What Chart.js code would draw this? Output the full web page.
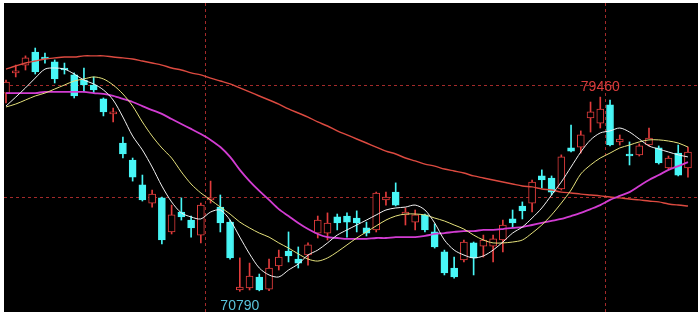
<!DOCTYPE html>
<html>
<head>
<meta charset="utf-8">
<script src="https://cdn.jsdelivr.net/npm/chart.js@4.4.1/dist/chart.umd.min.js"></script>
<style>
  html, body { margin: 0; padding: 0; background: #fff; }
  #box { position: absolute; left: 4px; top: 3px; width: 694px; height: 309px; background: #000; }
</style>
</head>
<body>
<div id="box"><canvas id="kline" width="694" height="309"></canvas></div>
<script>
// daily candles
const open  = [79640,80540,80890,81470,81250,81030,80760,80450,80220,80000,
               79380,78710,77410,76650,75540,74730,74960,73440,74330,73970,
               73300,74870,74550,73880,70850,70940,71430,70880,71920,72590,
               72230,72410,73390,73390,74110,74150,74060,73620,73530,74870,
               75220,74200,73880,74200,73440,72550,71830,72190,72950,72810,
               72810,73080,74020,74600,74730,75940,75850,75360,77190,77230,
               78530,78300,79110,77460,76920,76880,77320,77190,76300,76960,76300];
const high  = [80220,80890,81300,81650,81430,81120,80980,80540,80760,80360,
               79420,78970,77680,76740,75980,75310,75000,74640,74960,74150,
               74730,75710,75090,73970,72280,72050,71560,72230,72630,73440,
               72770,72950,74150,74290,74240,74290,74380,73880,75220,75220,
               75630,74510,74420,74240,73800,72630,72320,73080,72990,73300,
               73300,73970,74420,74780,75760,76210,75940,76880,78210,77950,
               79240,79460,79330,77770,77460,77370,78080,77280,76830,77320,77230];
const low   = [79200,80360,80670,80490,80980,80090,80490,79420,79690,79640,
               78620,78350,76740,75710,74820,74550,72900,73350,73970,73210,
               72950,74730,73440,72230,70790,70850,70810,70820,71740,72100,
               71830,71960,73170,73080,73530,73210,73440,73260,73440,74640,
               74600,73750,73530,73440,72720,71520,71380,72100,71520,72320,
               72100,72550,73620,74020,74330,75400,75090,75310,77010,76960,
               77900,78080,77280,77320,76430,76830,77280,76470,76250,75940,75890];
const close = [80130,80630,81210,80580,81160,80270,80670,79510,80000,79780,
               78800,78800,76920,75890,74870,75130,73080,74200,74110,73620,
               74640,74960,73840,72280,70980,71470,70850,71830,72320,72370,
               72050,72860,73970,73840,73840,73880,73840,73390,75180,75000,
               74640,74330,74200,73530,72770,71610,71430,72990,72280,73080,
               73130,73750,73840,74380,75670,75760,75220,76790,77050,77770,
               78800,78930,77320,77590,76830,77280,77630,76520,76740,75980,77010];

// moving average lines as shown on the chart
const ma5  = [79060,79460,79870,80310,80710,80760,80710,80490,80220,80050,
              79780,79330,78570,77720,77100,76340,75490,74780,74290,74110,
              74020,74330,74420,73970,73210,72460,71830,71520,71430,71740,
              72010,72410,72630,72950,73300,73530,73750,73970,74200,74420,
              74510,74550,74640,74420,73840,73080,72630,72410,72280,72370,
              72630,72990,73390,73660,74060,74510,75090,75670,76340,77010,
              77550,77860,77950,78080,77900,77590,77280,77140,77010,76880,76790];
const ma10 = [79020,79150,79330,79510,79640,79820,80000,80180,80270,80360,
              80270,80000,79600,79060,78350,77720,77190,76740,76120,75580,
              75180,74870,74550,74240,73880,73620,73390,73210,72950,72720,
              72460,72230,72140,72280,72550,72860,73170,73440,73710,73970,
              74150,74240,74240,74200,74060,73930,73750,73570,73300,73080,
              72950,72950,72990,73080,73390,73750,74200,74730,75310,76030,
              76430,76740,76960,77190,77320,77460,77550,77550,77500,77410,77230];
const ma20 = [79640,79640,79640,79640,79690,79690,79690,79690,79690,79640,
              79600,79510,79380,79240,79060,78880,78710,78480,78260,78040,
              77810,77550,77230,76790,76210,75710,75270,74870,74460,74150,
              73840,73570,73350,73210,73170,73130,73130,73130,73170,73170,
              73210,73210,73210,73260,73350,73390,73440,73480,73480,73530,
              73530,73570,73620,73660,73750,73840,73930,74020,74150,74290,
              74460,74640,74870,75050,75220,75490,75760,75980,76210,76380,76560];
const ma60 = [80710,80850,80980,81070,81160,81210,81250,81250,81300,81300,
              81300,81250,81210,81160,81070,80980,80890,80760,80670,80540,
              80450,80310,80180,80050,79870,79690,79510,79330,79150,78930,
              78750,78570,78350,78170,77950,77770,77590,77410,77230,77050,
              76920,76740,76610,76470,76380,76250,76160,76070,75940,75850,
              75760,75670,75580,75490,75450,75360,75310,75220,75180,75130,
              75090,75050,75000,74960,74910,74870,74820,74780,74690,74640,74600];

const gridPrices = [75000, 80000];
const monthBreaks = [20.5, 61.5];
// candles carrying the high / low price tags
const markHighAt = 61;
const markLowAt = 24;

const upColor = '#e23c3c';
const downColor = '#48f6f6';

const isUp = open.map((o, i) => close[i] >= o);
const wicks = open.map((o, i) => ({ x: i, y: [low[i], high[i]] }));
const bodies = open.map((o, i) => ({ x: i, y: [Math.min(o, close[i]), Math.max(o, close[i])] }));
const line = arr => arr.map((v, i) => ({ x: i, y: v }));

const extremeLabels = {
  id: 'extremeLabels',
  afterDatasetsDraw(chart) {
    const { ctx, scales: { x, y } } = chart;
    const hi = high[markHighAt];
    const lo = low[markLowAt];
    ctx.save();
    ctx.font = '14px Arial';
    ctx.textAlign = 'center';
    ctx.textBaseline = 'alphabetic';
    ctx.fillStyle = '#d83c3c';
    ctx.fillText(String(hi), x.getPixelForValue(markHighAt), y.getPixelForValue(hi) - 6);
    ctx.fillStyle = '#5ac4dc';
    ctx.fillText(String(lo), x.getPixelForValue(markLowAt), y.getPixelForValue(lo) + 19);
    ctx.restore();
  }
};

const gridOpts = { color: '#a32a2a', lineWidth: 1, drawTicks: false, offset: false };
const borderOpts = { display: false, dash: [3, 3] };

new Chart(document.getElementById('kline'), {
  type: 'bar',
  data: {
    datasets: [
      { type: 'line', data: line(ma5),  borderColor: '#f2f2f2', borderWidth: 1,   pointRadius: 0, tension: 0.3, order: 0 },
      { type: 'line', data: line(ma10), borderColor: '#e6e27c', borderWidth: 1,   pointRadius: 0, tension: 0.3, order: 0 },
      { type: 'line', data: line(ma20), borderColor: '#d23cd2', borderWidth: 1.8, pointRadius: 0, tension: 0.3, order: 0 },
      { type: 'line', data: line(ma60), borderColor: '#dc4a40', borderWidth: 1.4, pointRadius: 0, tension: 0.3, order: 0 },
      {
        data: bodies, order: 1, grouped: false, barThickness: 7, minBarLength: 1,
        backgroundColor: isUp.map(u => u ? '#000' : downColor),
        borderColor: isUp.map(u => u ? upColor : downColor),
        borderWidth: 1, borderSkipped: false
      },
      {
        data: wicks, order: 2, grouped: false, barThickness: 1,
        backgroundColor: isUp.map(u => u ? upColor : downColor),
        borderWidth: 0
      }
    ]
  },
  options: {
    responsive: false,
    animation: false,
    devicePixelRatio: 1,
    layout: { padding: 0 },
    plugins: { legend: { display: false }, tooltip: { enabled: false } },
    scales: {
      x: {
        type: 'linear', min: -0.205, max: 71.03, offset: false,
        ticks: { display: false }, grid: gridOpts, border: borderOpts,
        afterBuildTicks: s => { s.ticks = monthBreaks.map(v => ({ value: v })); }
      },
      y: {
        min: 69866, max: 83661,
        ticks: { display: false }, grid: gridOpts, border: borderOpts,
        afterBuildTicks: s => { s.ticks = gridPrices.map(v => ({ value: v })); }
      }
    }
  },
  plugins: [extremeLabels]
});
</script>
</body>
</html>
